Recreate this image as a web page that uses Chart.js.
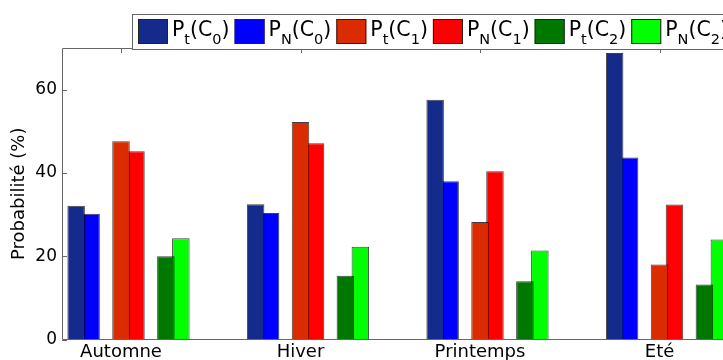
<!DOCTYPE html>
<html>
<head>
<meta charset="utf-8">
<script src="https://cdn.jsdelivr.net/npm/chart.js@4/dist/chart.umd.min.js"></script>
<style>
  body { margin: 0; background: #fff; }
  #clip { width: 723px; height: 360px; overflow: hidden; }
  #wrap { position: relative; width: 820px; height: 360px; }
</style>
</head>
<body>
<div id="clip"><div id="wrap"><canvas id="chart"></canvas></div></div>
<script>
const categories = ['Automne', 'Hiver', 'Printemps', 'Eté'];
const ptC0 = [32.1, 32.5, 57.6, 68.8];
const pnC0 = [30.2, 30.4, 38.0, 43.7];
const ptC1 = [47.6, 52.2, 28.2, 18.0];
const pnC1 = [45.2, 47.1, 40.4, 32.4];
const ptC2 = [20.0, 15.3, 14.0, 13.2];
const pnC2 = [24.3, 22.3, 21.4, 24.0];
const yTicks = [0, 20, 40, 60];

const series = [
  { name: 'P_t(C_0)', values: ptC0, color: '#142b8c' },
  { name: 'P_N(C_0)', values: pnC0, color: '#0000ff' },
  { name: 'P_t(C_1)', values: ptC1, color: '#da2c00' },
  { name: 'P_N(C_1)', values: pnC1, color: '#ff0000' },
  { name: 'P_t(C_2)', values: ptC2, color: '#007800' },
  { name: 'P_N(C_2)', values: pnC2, color: '#00ff00' }
];

const FONT = 'DejaVu Sans';

// one empty slot before every pair keeps the pairs apart
const datasets = [];
series.forEach((s, k) => {
  if (k % 2 === 0) {
    datasets.push({ label: '', data: categories.map((c, i) => ({ x: i, y: null })) });
  }
  datasets.push({
    label: s.name,
    data: s.values.map((v, i) => ({ x: i, y: v })),
    backgroundColor: s.color,
    borderColor: 'rgba(0,0,0,0.75)',
    borderWidth: 1
  });
});

function drawLabel(ctx, text, x, y) {
  let w = 0;
  for (let i = 0; i < text.length; i++) {
    let sub = false;
    let ch = text[i];
    if (ch === '_') { sub = true; ch = text[++i]; }
    ctx.font = (sub ? 14.5 : 20.5) + 'px "' + FONT + '"';
    ctx.fillText(ch, x + w, sub ? y + 8.5 : y);
    w += ctx.measureText(ch).width;
  }
  return w;
}

const frame = {
  id: 'frame',
  beforeDatasetsDraw(chart) {
    const { ctx, chartArea: a, scales } = chart;
    ctx.save();
    ctx.strokeStyle = '#666';
    ctx.lineWidth = 1;
    ctx.beginPath();
    yTicks.forEach(v => {
      const y = Math.round(scales.y.getPixelForValue(v)) + 0.5;
      ctx.moveTo(a.left, y); ctx.lineTo(a.left + 5, y);
    });
    categories.forEach((c, i) => {
      const x = Math.round(scales.x.getPixelForValue(i)) + 0.5;
      ctx.moveTo(x, a.top); ctx.lineTo(x, a.top + 5);
      ctx.moveTo(x, a.bottom); ctx.lineTo(x, a.bottom - 5);
    });
    ctx.stroke();
    ctx.restore();
  },
  afterDatasetsDraw(chart) {
    const { ctx, chartArea: a } = chart;
    ctx.save();
    ctx.strokeStyle = '#666';
    ctx.lineWidth = 1;
    ctx.beginPath();
    ctx.moveTo(a.right, a.top + 0.5);
    ctx.lineTo(a.left + 0.5, a.top + 0.5);
    ctx.lineTo(a.left + 0.5, a.bottom);
    ctx.lineTo(a.right, a.bottom);
    ctx.stroke();
    ctx.restore();
  },
  afterDraw(chart) {
    const ctx = chart.ctx;
    ctx.save();
    ctx.fillStyle = '#fff';
    ctx.fillRect(132.5, 14.5, 800, 35);
    ctx.strokeStyle = '#666';
    ctx.lineWidth = 1;
    ctx.strokeRect(132.5, 14.5, 800, 35);
    ctx.textBaseline = 'alphabetic';
    let x = 138;
    series.forEach(s => {
      ctx.fillStyle = s.color;
      ctx.fillRect(x, 19, 30, 25);
      ctx.strokeStyle = '#222';
      ctx.strokeRect(x + 0.5, 19.5, 29, 24);
      ctx.fillStyle = '#000';
      x += 34 + drawLabel(ctx, s.name, x + 34, 35.5) + 5;
    });
    ctx.restore();
  }
};

new Chart(document.getElementById('chart'), {
  type: 'bar',
  data: { datasets },
  options: {
    responsive: true,
    maintainAspectRatio: false,
    animation: false,
    categoryPercentage: 0.75,
    barPercentage: 1.17,
    layout: { padding: { top: 48, left: 0, right: 0, bottom: 0 } },
    plugins: { legend: { display: false }, tooltip: { enabled: false } },
    scales: {
      x: {
        type: 'linear',
        offset: false,
        min: -0.3287,
        max: 3.894,
        grid: { display: false, drawTicks: false },
        border: { display: false },
        afterBuildTicks: s => { s.ticks = categories.map((c, i) => ({ value: i })); },
        afterFit: s => { s.height = 20.5; },
        ticks: {
          color: '#000',
          padding: 2,
          font: { family: FONT, size: 18 },
          callback: v => categories[v]
        }
      },
      y: {
        min: 0,
        max: 70,
        grid: { display: false, drawTicks: false },
        border: { display: false },
        afterBuildTicks: s => { s.ticks = yTicks.map(v => ({ value: v })); },
        afterFit: s => { s.width = 62; },
        ticks: { color: '#000', padding: 5, font: { family: FONT, size: 17 } },
        title: {
          display: true,
          text: 'Probabilité (%)',
          color: '#000',
          padding: { top: 9, bottom: 0 },
          font: { family: FONT, size: 18 }
        }
      }
    }
  },
  plugins: [frame]
});
</script>
</body>
</html>
